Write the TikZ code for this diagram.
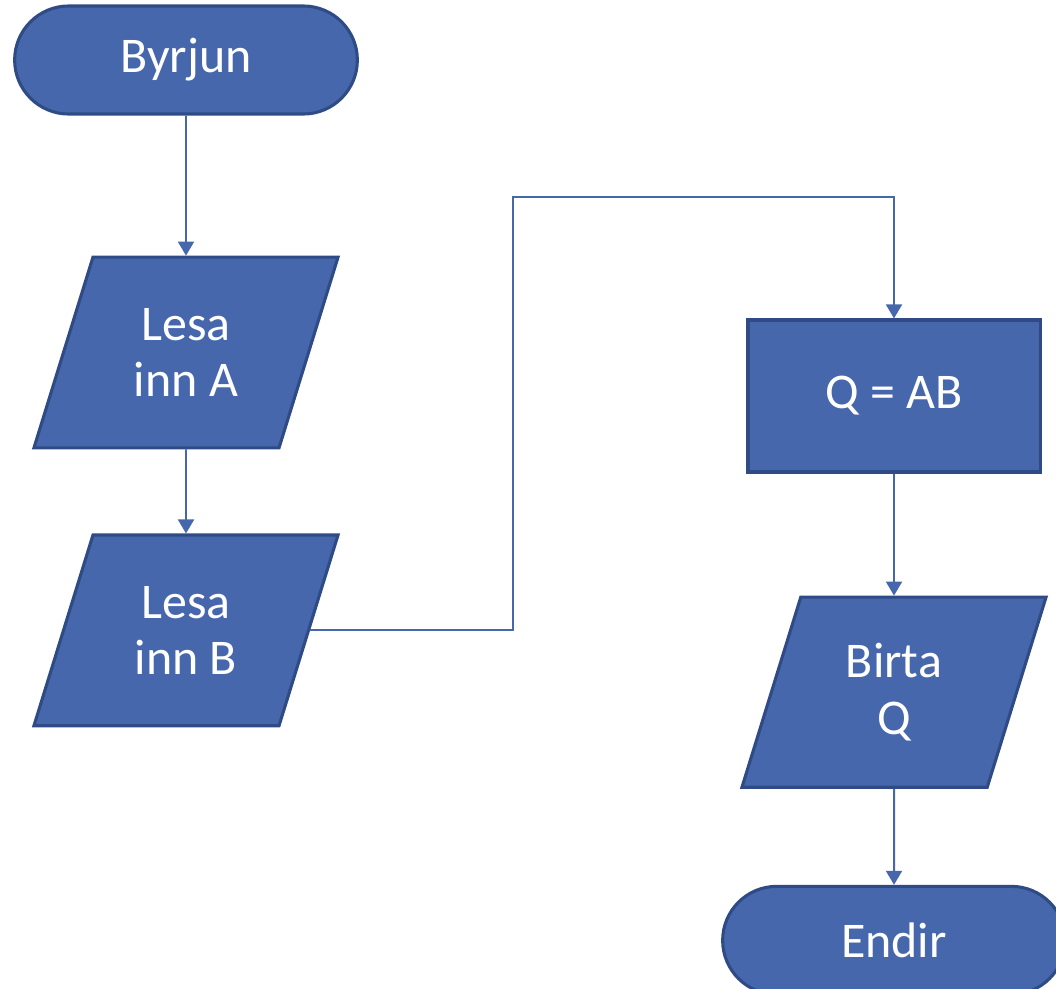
\documentclass[tikz,border=0pt]{standalone}
\usepackage{fontspec}
\setmainfont{Carlito}
\usetikzlibrary{shapes.geometric,shapes.misc,positioning,arrows.meta}
\definecolor{boxblue}{HTML}{4767AC}
\definecolor{edgeblue}{HTML}{2F4B86}
\begin{document}
\begin{tikzpicture}
	[x=0.025cm,y=-0.025cm,
	every node/.style={fill=boxblue,draw=edgeblue,line width=2.2pt,text=white,align=center,
		font=\fontsize{35.5}{40}\selectfont},
	term/.style={rounded rectangle,minimum width=8.8cm,minimum height=2.7cm},
	io/.style={trapezium,trapezium left angle=72.8,trapezium right angle=107.2,
		trapezium stretches body,minimum width=7.6cm,minimum height=4.75cm,
		inner xsep=2pt,inner ysep=1.28cm},
	proc/.style={rectangle,minimum width=7.3cm,minimum height=3.8cm},
	flow/.style={boxblue,line width=1.4pt,-{Triangle[width=0.4cm,length=0.35cm]}}]
	\useasboundingbox (0,0) rectangle (1056,988);
	\node[term] (start) at (186,60) {Byrjun};
	\node[io,below=3.5cm of start] (lesa) {Lesa\\inn A};
	\node[io,below=2.1cm of lesa] (lesb) {Lesa\\inn B};
	\node[proc] (calc) at (894,396) {Q = AB};
	\node[io,inner ysep=1.16cm,below=3.05cm of calc] (birta) {Birta\\Q};
	\node[term,below=2.4cm of birta] (stop) {Endir};
	\coordinate (bend) at (513,197);
	\draw[flow] (start) -- (lesa);
	\draw[flow] (lesa) -- (lesb);
	\draw[flow] (lesb.east) -| (bend) -| (calc.north);
	\draw[flow] (calc) -- (birta);
	\draw[flow] (birta) -- (stop);
\end{tikzpicture}
\end{document}
